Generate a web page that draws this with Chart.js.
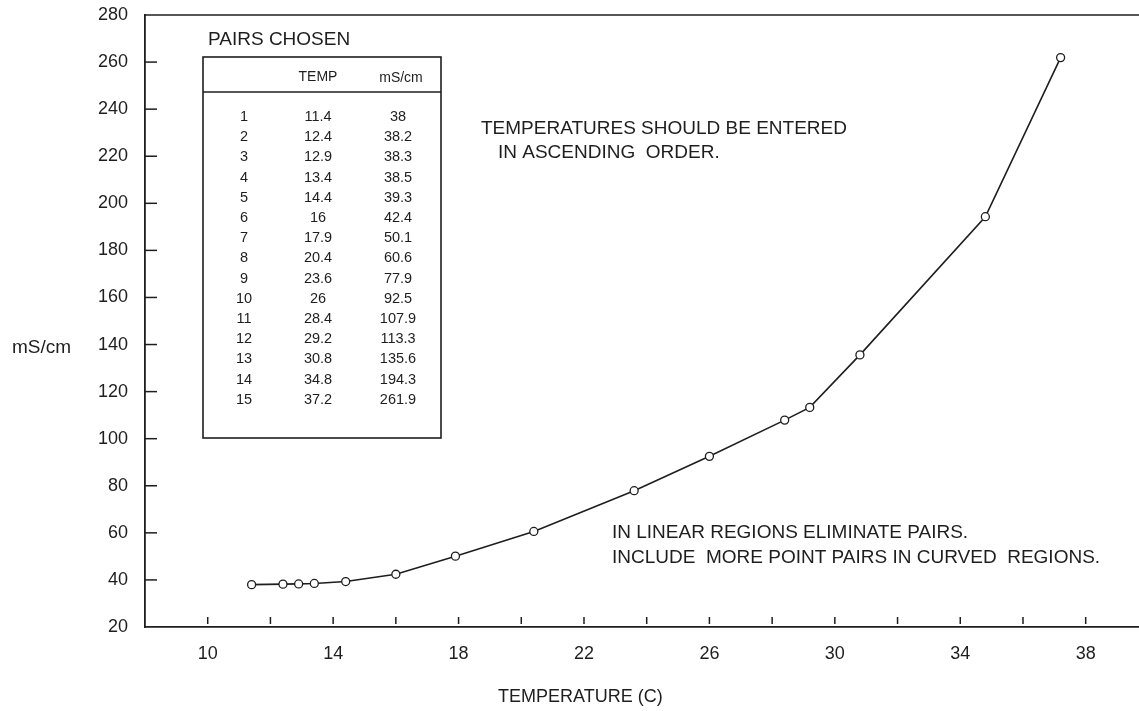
<!DOCTYPE html>
<html>
<head>
<meta charset="utf-8">
<script src="https://cdn.jsdelivr.net/npm/chart.js@4/dist/chart.umd.min.js"></script>
<style>
  html, body { margin: 0; padding: 0; background: #ffffff; }
  #wrap { width: 1139px; height: 711px; }
</style>
</head>
<body>
<div id="wrap"><canvas id="c" width="1139" height="711"></canvas></div>
<script>
// ---- data ----
const pairNumbers = [1, 2, 3, 4, 5, 6, 7, 8, 9, 10, 11, 12, 13, 14, 15];
const temps = [11.4, 12.4, 12.9, 13.4, 14.4, 16, 17.9, 20.4, 23.6, 26, 28.4, 29.2, 30.8, 34.8, 37.2];
const conductivity = [38, 38.2, 38.3, 38.5, 39.3, 42.4, 50.1, 60.6, 77.9, 92.5, 107.9, 113.3, 135.6, 194.3, 261.9];
const xLabelTicks = [10, 14, 18, 22, 26, 30, 34, 38];
const xMarkTicks = [10, 12, 14, 16, 18, 20, 22, 24, 26, 28, 30, 32, 34, 36, 38];
const yMarkTicks = [40, 60, 80, 100, 120, 140, 160, 180, 200, 220, 240, 260];
const xTitle = "TEMPERATURE (C)";
const yTitle = "mS/cm";
const tableTitle = "PAIRS CHOSEN";
const tableHeaders = ["TEMP", "mS/cm"];
const noteTop = ["TEMPERATURES SHOULD BE ENTERED", "IN ASCENDING  ORDER."];
const noteBottom = ["IN LINEAR REGIONS ELIMINATE PAIRS.", "INCLUDE  MORE POINT PAIRS IN CURVED  REGIONS."];

const INK = '#1e1e1e';
const FONT = '"Liberation Sans", Arial, Helvetica, sans-serif';

const points = temps.map((t, i) => ({ x: t, y: conductivity[i] }));

const decor = {
  id: 'decor',
  afterDraw(chart) {
    const ctx = chart.ctx;
    const xs = chart.scales.x, ys = chart.scales.y;
    const ca = chart.chartArea;
    ctx.save();
    ctx.strokeStyle = INK;
    ctx.fillStyle = INK;
    // top frame line
    ctx.lineWidth = 1.6;
    ctx.beginPath();
    ctx.moveTo(ca.left, ca.top);
    ctx.lineTo(chart.width, ca.top);
    ctx.stroke();
    // inward tick marks
    ctx.lineWidth = 1.5;
    xMarkTicks.forEach(v => {
      const px = xs.getPixelForValue(v);
      ctx.beginPath();
      ctx.moveTo(px, ca.bottom - 10);
      ctx.lineTo(px, ca.bottom - 3);
      ctx.stroke();
    });
    yMarkTicks.forEach(v => {
      const py = ys.getPixelForValue(v);
      ctx.beginPath();
      ctx.moveTo(ca.left, py);
      ctx.lineTo(ca.left + 12, py);
      ctx.stroke();
    });
    // axis titles
    ctx.textBaseline = 'middle';
    ctx.textAlign = 'left';
    ctx.font = '19px ' + FONT;
    ctx.fillText(yTitle, 12, 348);
    ctx.font = '18px ' + FONT;
    ctx.fillText(xTitle, 498, 697);

    // table
    ctx.font = '19px ' + FONT;
    ctx.fillText(tableTitle, 208, 40);
    ctx.lineWidth = 1.6;
    ctx.strokeRect(203, 57, 238, 381);
    ctx.beginPath();
    ctx.moveTo(203, 92);
    ctx.lineTo(441, 92);
    ctx.stroke();
    ctx.textAlign = 'center';
    ctx.font = '14px ' + FONT;
    ctx.fillText(tableHeaders[0], 318, 77);
    ctx.fillText(tableHeaders[1], 401, 78);
    ctx.font = '14.5px ' + FONT;
    pairNumbers.forEach((n, i) => {
      const y = 117 + i * 20.2;
      ctx.fillText(String(n), 244, y);
      ctx.fillText(String(temps[i]), 318, y);
      ctx.fillText(String(conductivity[i]), 398, y);
    });

    // notes
    ctx.textAlign = 'left';
    ctx.font = '19px ' + FONT;
    ctx.fillText(noteTop[0], 481, 129);
    ctx.fillText(noteTop[1], 498, 153);
    ctx.fillText(noteBottom[0], 612, 533);
    ctx.fillText(noteBottom[1], 612, 558);
    ctx.restore();
  }
};

new Chart(document.getElementById('c'), {
  type: 'scatter',
  data: {
    datasets: [{
      data: points,
      showLine: true,
      tension: 0,
      borderColor: INK,
      borderWidth: 1.6,
      pointStyle: 'circle',
      pointRadius: 4,
      pointHoverRadius: 4,
      pointBorderWidth: 1.3,
      pointBorderColor: INK,
      pointBackgroundColor: '#ffffff'
    }]
  },
  options: {
    responsive: false,
    animation: false,
    events: [],
    layout: { autoPadding: false, padding: { top: 15, right: 0, left: 0, bottom: 0 } },
    plugins: { legend: { display: false }, tooltip: { enabled: false }, title: { display: false } },
    scales: {
      x: {
        type: 'linear',
        min: 8,
        max: 39.7,
        afterFit: s => { s.height = 84; s.paddingLeft = 0; s.paddingRight = 0; },
        grid: { display: true, drawOnChartArea: false, drawTicks: false },
        border: { display: true, color: INK, width: 1.8 },
        ticks: {
          stepSize: 2,
          includeBounds: false,
          autoSkip: false,
          maxRotation: 0,
          padding: 16,
          color: INK,
          font: { family: FONT, size: 18 },
          callback: v => (xLabelTicks.includes(v) ? String(v) : '')
        }
      },
      y: {
        type: 'linear',
        min: 20,
        max: 280,
        afterFit: s => { s.width = 145; s.paddingTop = 0; s.paddingBottom = 0; },
        grid: { display: true, drawOnChartArea: false, drawTicks: false },
        border: { display: true, color: INK, width: 1.8 },
        ticks: {
          stepSize: 20,
          padding: 17,
          color: INK,
          font: { family: FONT, size: 18 }
        }
      }
    }
  },
  plugins: [decor]
});
</script>
</body>
</html>
